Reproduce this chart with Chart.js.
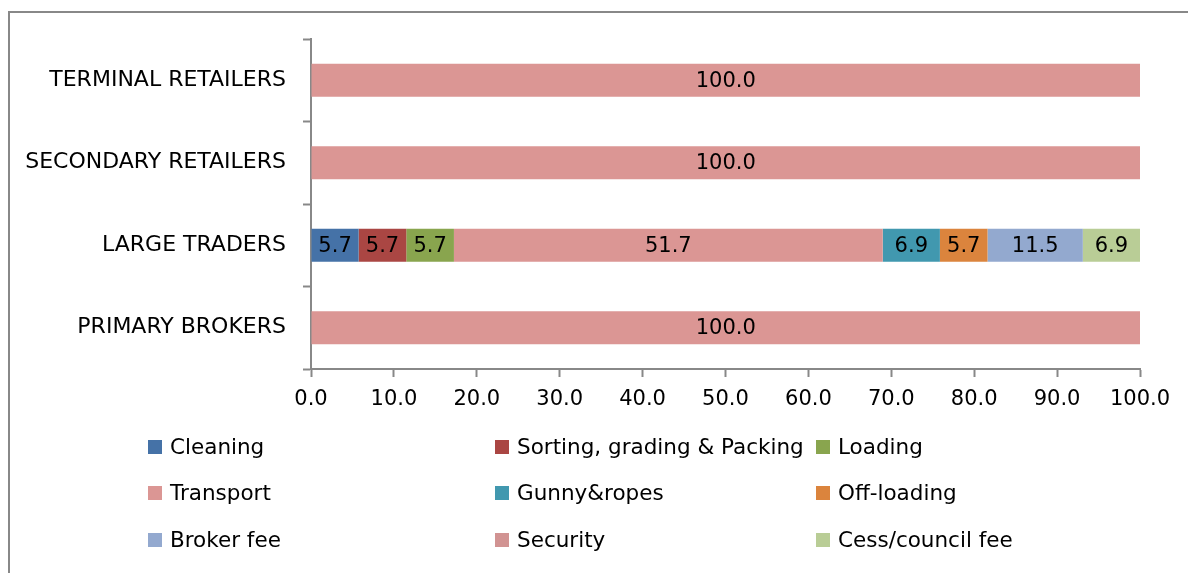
<!DOCTYPE html>
<html>
<head>
<meta charset="utf-8">
<script src="https://cdn.jsdelivr.net/npm/chart.js@4/dist/chart.umd.min.js"></script>
<style>
  html, body { margin: 0; padding: 0; background: #fff; overflow: hidden; }
  #wrap { position: relative; width: 1188px; height: 573px; }
  #frame { position: absolute; left: 8px; top: 11px; width: 1300px; height: 700px; border-left: 2px solid #888; border-top: 2px solid #888; }
  canvas { position: absolute; left: 0; top: 0; }
  .lg { position: absolute; font-family: "DejaVu Sans", sans-serif; font-size: 21.5px; color: #000; white-space: nowrap; line-height: 24px; }
  .lg span.sw { position: absolute; width: 14px; height: 14px; }
  .lg span.tx { position: absolute; }
</style>
</head>
<body>
<div id="wrap">
  <div id="frame"></div>
  <canvas id="c" width="1188" height="573"></canvas>
  <div id="legend"></div>
</div>
<script>
const categories = ['TERMINAL RETAILERS', 'SECONDARY RETAILERS', 'LARGE TRADERS', 'PRIMARY BROKERS'];
const seriesNames = ['Cleaning', 'Sorting, grading & Packing', 'Loading', 'Transport', 'Gunny&ropes', 'Off-loading', 'Broker fee', 'Security', 'Cess/council fee'];
const cleaning   = [0, 0, 5.747, 0];
const sorting    = [0, 0, 5.747, 0];
const loading    = [0, 0, 5.747, 0];
const transport  = [100.0, 100.0, 51.724, 100.0];
const gunny      = [0, 0, 6.897, 0];
const offloading = [0, 0, 5.747, 0];
const brokerFee  = [0, 0, 11.494, 0];
const security   = [0, 0, 0, 0];
const cess       = [0, 0, 6.897, 0];
const xTicks = [0, 10, 20, 30, 40, 50, 60, 70, 80, 90, 100];

const colors = ['#4572A7', '#AA4643', '#89A54E', '#DB9694', '#4198AF', '#DB843D', '#93A9CF', '#D19392', '#B9CD96'];
const seriesValues = [cleaning, sorting, loading, transport, gunny, offloading, brokerFee, security, cess];

const FONT = '"DejaVu Sans", sans-serif';

const labelPlugin = {
  id: 'valueLabels',
  afterDatasetsDraw(chart) {
    const ctx = chart.ctx;
    ctx.save();
    ctx.font = '21px ' + FONT;
    ctx.fillStyle = '#000';
    ctx.textAlign = 'center';
    ctx.textBaseline = 'middle';
    chart.data.datasets.forEach((ds, i) => {
      const meta = chart.getDatasetMeta(i);
      meta.data.forEach((el, j) => {
        const v = ds.data[j];
        if (!v) return;
        const cx = (el.x + el.base) / 2;
        ctx.fillText(v.toFixed(1), cx, el.y + 1);
      });
    });
    ctx.restore();
  }
};

const chart = new Chart(document.getElementById('c'), {
  type: 'bar',
  data: {
    labels: categories,
    datasets: seriesNames.map((n, i) => ({
      label: n,
      data: seriesValues[i],
      backgroundColor: colors[i],
      borderWidth: 0,
      categoryPercentage: 1.0,
      barPercentage: 0.4
    }))
  },
  options: {
    indexAxis: 'y',
    responsive: false,
    animation: false,
    layout: { padding: { left: 0, right: 48, top: 39, bottom: 164 } },
    plugins: { legend: { display: false }, tooltip: { enabled: false } },
    scales: {
      x: {
        stacked: true,
        min: 0, max: 100,
        afterBuildTicks(scale) { scale.ticks = xTicks.map(v => ({ value: v })); },
        afterFit(scale) { scale.height = 40; },
        ticks: {
          callback: v => Number(v).toFixed(1),
          font: { family: FONT, size: 21 },
          color: '#000',
          padding: 10,
          maxRotation: 0
        },
        grid: { drawOnChartArea: false, tickLength: 8, tickColor: '#888', tickWidth: 2 },
        border: { color: '#888', width: 2 }
      },
      y: {
        stacked: true,
        afterFit(scale) { scale.width = 311; },
        ticks: {
          font: { family: FONT, size: 22 },
          color: '#000',
          padding: 17
        },
        grid: { drawOnChartArea: false, tickLength: 8, tickColor: '#888', tickWidth: 2, offset: true },
        border: { color: '#888', width: 2 }
      }
    }
  },
  plugins: [labelPlugin]
});

// HTML legend built from the chart's datasets
const colX = [148, 495, 816];
const rowY = [447, 493, 540];
const lg = document.getElementById('legend');
chart.data.datasets.forEach((ds, i) => {
  const r = Math.floor(i / 3), c = i % 3;
  const item = document.createElement('div');
  item.className = 'lg';
  item.style.left = colX[c] + 'px';
  item.style.top = (rowY[r] - 12) + 'px';
  const sw = document.createElement('span');
  sw.className = 'sw';
  sw.style.background = ds.backgroundColor;
  sw.style.left = '0px';
  sw.style.top = '5px';
  const tx = document.createElement('span');
  tx.className = 'tx';
  tx.style.left = '22px';
  tx.style.top = '0px';
  tx.textContent = ds.label;
  item.appendChild(sw);
  item.appendChild(tx);
  lg.appendChild(item);
});
</script>
</body>
</html>
